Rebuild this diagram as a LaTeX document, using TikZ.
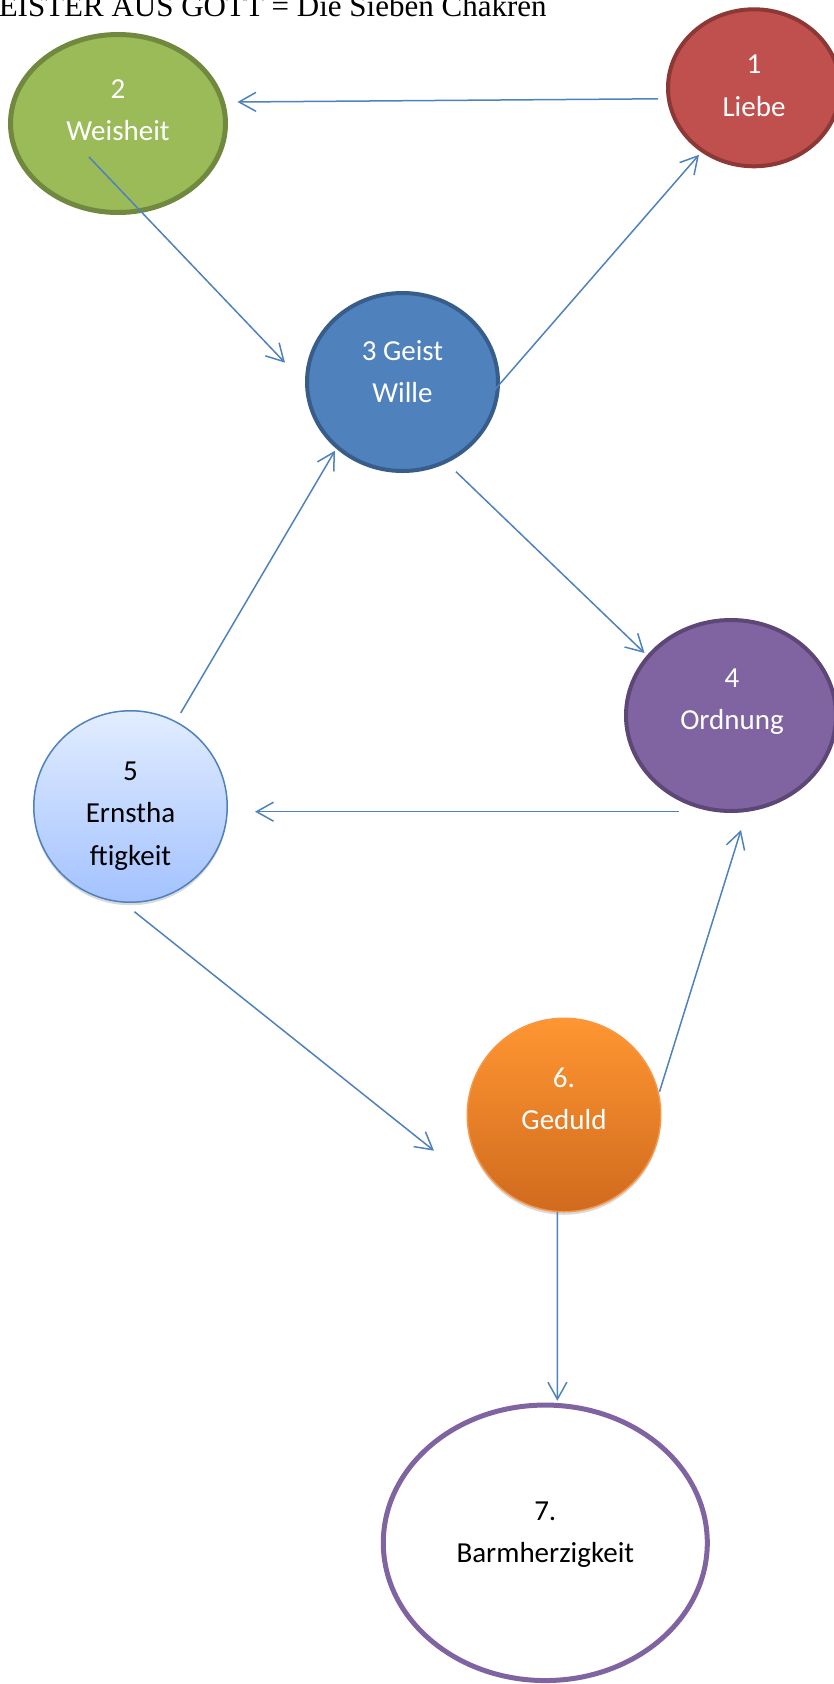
\documentclass[tikz,border=0pt]{standalone}
\usepackage{fontspec}
\usepackage{tikz}
\usetikzlibrary{arrows.meta,shapes.geometric,shadows,calc}
\newfontfamily\chakrafont{Carlito}
\newfontfamily\titlefont{Liberation Serif}
\definecolor{arrowblue}{HTML}{4F81BD}
\definecolor{redfill}{HTML}{C0504D}
\definecolor{redline}{HTML}{8C3836}
\definecolor{greenfill}{HTML}{9BBB59}
\definecolor{greenline}{HTML}{71893F}
\definecolor{bluefill}{HTML}{4F81BD}
\definecolor{blueline}{HTML}{385D8A}
\definecolor{violetfill}{HTML}{8064A2}
\definecolor{violetline}{HTML}{5C4776}
\definecolor{paletop}{HTML}{E2EDFF}
\definecolor{palebottom}{HTML}{A3C2FF}
\definecolor{orangetop}{HTML}{FF9632}
\definecolor{orangebottom}{HTML}{D06A1E}
\definecolor{orangeline}{HTML}{F79646}

\begin{document}
\begin{tikzpicture}[x=1pt,y=-1pt,->,>={Straight Barb[length=17pt,width=19pt]},
  arrowblue,line width=1.5pt,
  chakra/.style={ellipse,inner sep=0pt,line width=4pt},
  softshadow/.style={drop shadow={shadow xshift=0pt,shadow yshift=-3pt,opacity=.3}},
  chakratext/.style={align=center,inner sep=0pt,font=\chakrafont\fontsize{29}{42.5}\selectfont}]
  \useasboundingbox (0,0) rectangle (833,1684);
  \node[anchor=base west,black,inner sep=0pt,font=\titlefont\fontsize{31}{36}\selectfont] (title) at (-2,16) {EISTER AUS GOTT = Die Sieben Chakren};

  % die sieben Kreise
  \node[chakra,draw=redline,fill=redfill,minimum width=172pt,minimum height=157pt] (c1) at (754,87.8) {};
  \node[chakra,draw=greenline,fill=greenfill,line width=5pt,minimum width=215pt,minimum height=178pt] (c2) at (118,123.5) {};
  \node[chakra,draw=blueline,fill=bluefill,minimum width=191pt,minimum height=178pt] (c3) at (402.5,382) {};
  \node[chakra,draw=violetline,fill=violetfill,minimum width=210pt,minimum height=191pt] (c4) at (731,715.5) {};
  \node[chakra,softshadow,draw=arrowblue,line width=1.5pt,top color=paletop,bottom color=palebottom,minimum width=193.5pt,minimum height=191.5pt] (c5) at (130.5,806.5) {};
  \node[chakra,softshadow,draw=orangeline,line width=1.5pt,top color=orangetop,bottom color=orangebottom,minimum width=193.5pt,minimum height=193.5pt] (c6) at (564,1115) {};
  \node[chakra,draw=violetfill,fill=white,line width=5pt,minimum width=324pt,minimum height=275.5pt] (c7) at (545.3,1542.8) {};

  \node[chakratext,white] (t1) at ($(c1)+(0,-2)$) {1\\Liebe};
  \node[chakratext,white] (t2) at ($(c2)+(0,-13.5)$) {2\\Weisheit};
  \node[chakratext,white] (t3) at ($(c3)+(0,-10.3)$) {3 Geist\\Wille};
  \node[chakratext,white] (t4) at ($(c4)+(1,-14)$) {4\\Ordnung};
  \node[chakratext,black] (t5) at ($(c5)+(0,9.5)$) {5\\Ernstha\\ftigkeit};
  \node[chakratext,white] (t6) at ($(c6)+(0,-16)$) {6.\\Geduld};
  \node[chakratext,black] (t7) at ($(c7)+(0,-8)$) {7.\\Barmherzigkeit};

  \path ($(c1)+(-96,11)$) edge ($(c2)+(119.5,-21.5)$)
  ($(c2)+(-29,33.5)$) edge ($(c3)+(-117.5,-19.3)$)
  ($(c3)+(67.5,36.3)$) edge ($(c1)+(-55,67)$)
  ($(c3)+(53.5,89.7)$) edge ($(c4)+(-86.5,-62.5)$)
  ($(c4)+(-52.5,96.2)$) edge ($(c5)+(124.5,5.2)$)
  ($(c5)+(50.2,-93.5)$) edge ($(c3)+(-67.5,68.7)$)
  ($(c5)+(3.9,105.2)$) edge ($(c6)+(-130,35.7)$)
  ($(c6)+(95.5,-23.3)$) edge ($(c4)+(10,114.5)$)
  ($(c6)+(-6.6,96.8)$) edge ($(c7)+(12.1,-142.1)$)
            ;
\end{tikzpicture}
\end{document}
